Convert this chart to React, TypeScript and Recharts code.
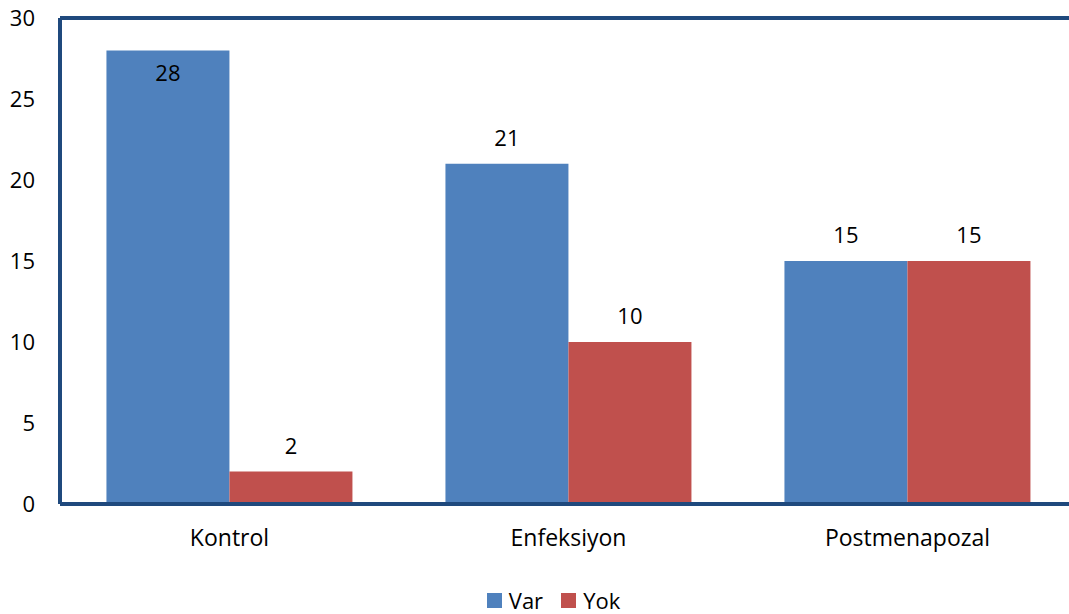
import React from "react";
import { BarChart, Bar, XAxis, YAxis, Legend, ReferenceLine, LabelList } from "recharts";

const categories = ["Kontrol", "Enfeksiyon", "Postmenapozal"];
const varValues = [28, 21, 15];
const yokValues = [2, 10, 15];
const yTicks = [0, 5, 10, 15, 20, 25, 30];

const data = categories.map((name, i) => ({ name, Var: varValues[i], Yok: yokValues[i] }));

const FONT = "'Open Sans', sans-serif";

const renderLabel = (props: any) => {
  const { x, y, width, value } = props;
  const cx = Number(x) + Number(width) / 2;
  const inside = Number(y) < 60;
  const ty = inside ? Number(y) + 22 : Number(y) - 27;
  return (
    <text x={cx} y={ty} textAnchor="middle" dominantBaseline="central" fontFamily={FONT} fontSize={22} fill="#000">
      {value}
    </text>
  );
};

const renderLegend = (props: any) => {
  const { payload } = props;
  return (
    <div style={{ display: "flex", justifyContent: "center", alignItems: "center", paddingLeft: 30, paddingTop: 13, fontFamily: FONT, fontSize: 22, lineHeight: "26px", color: "#000" }}>
      {(payload || []).map((p: any, i: number) => (
        <div key={i} style={{ display: "flex", alignItems: "center", marginRight: i < payload.length - 1 ? 18 : 0 }}>
          <span style={{ display: "inline-block", width: 15, height: 15, background: p.color, marginRight: 7 }} />
          <span>{p.value}</span>
        </div>
      ))}
    </div>
  );
};

export default function App() {
  return (
    <div style={{ position: "absolute", left: 0, top: 0, width: 1069, height: 614, overflow: "hidden", background: "#fff" }}>
      <BarChart
        width={1077}
        height={614}
        data={data}
        margin={{ top: 18, right: 0, left: 0, bottom: 0 }}
        barCategoryGap="13.7%"
        barGap={0}
      >
        <XAxis
          dataKey="name"
          height={70}
          tickLine={false}
          tickSize={0}
          tickMargin={26}
          axisLine={{ stroke: "#1F497D", strokeWidth: 4 }}
          tick={{ fontFamily: FONT, fontSize: 23, fill: "#000" }}
        />
        <YAxis
          width={60}
          domain={[0, 30]}
          ticks={yTicks}
          interval={0}
          tickLine={false}
          tickSize={0}
          tickMargin={25}
          axisLine={{ stroke: "#1F497D", strokeWidth: 4 }}
          tick={{ fontFamily: FONT, fontSize: 22, fill: "#000" }}
        />
        <ReferenceLine y={30} stroke="#1F497D" strokeWidth={4} />
        <Legend verticalAlign="bottom" height={40} content={renderLegend} />
        <Bar dataKey="Var" fill="#4F81BD" isAnimationActive={false}>
          <LabelList dataKey="Var" content={renderLabel} />
        </Bar>
        <Bar dataKey="Yok" fill="#C0504D" isAnimationActive={false}>
          <LabelList dataKey="Yok" content={renderLabel} />
        </Bar>
      </BarChart>
    </div>
  );
}
